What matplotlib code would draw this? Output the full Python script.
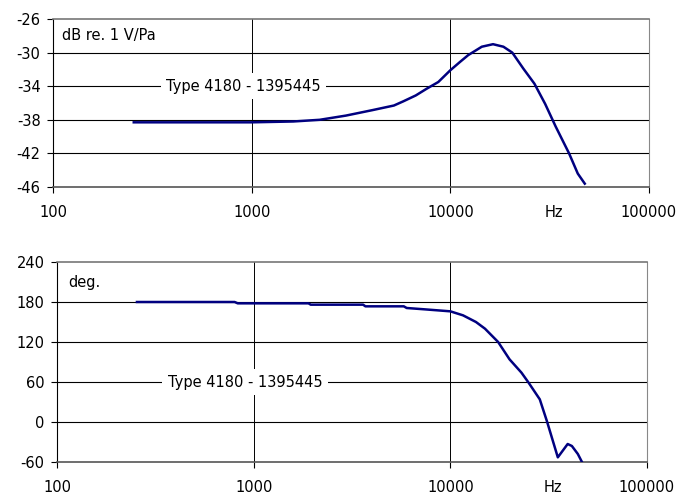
import matplotlib
matplotlib.use("Agg")
import matplotlib.pyplot as plt

plt.rcParams['font.family'] = ['DejaVu Sans']

# --- Datos: sensibilidad (dB re. 1 V/Pa) ---
freq_mag = [255, 500, 1000, 1620, 2200, 2980, 4050, 5200, 5800, 6700, 7600,
            8700, 10000, 11200, 12300, 14400, 16400, 18500, 20500, 23300,
            26500, 30000, 33900, 39600, 43800, 47500]
mag_db = [-38.3, -38.3, -38.3, -38.2, -38.0, -37.5, -36.85, -36.3, -35.8,
          -35.1, -34.3, -33.5, -32.1, -31.1, -30.3, -29.3, -29.0, -29.3,
          -30.0, -31.9, -33.7, -36.1, -38.8, -42.0, -44.4, -45.6]

# --- Datos: fase (deg.) ---
freq_phase = [255, 500, 800, 830, 1900, 1950, 3600, 3700, 5800, 6000, 7400,
              10000, 11600, 13500, 15000, 17500, 20000, 23000, 25000, 28500,
              31000, 35200, 39500, 41500, 44500, 46700]
phase_deg = [180, 180, 180, 178, 178, 176, 176, 173.5, 173.5, 171, 169, 166,
             160, 150, 140, 120, 94, 74, 59, 34, 1, -53, -33, -36, -48, -60]

mag_ticks = [-46, -42, -38, -34, -30, -26]
phase_ticks = [-60, 0, 60, 120, 180, 240]
x_ticks = [100, 1000, 10000, 100000]
x_labels = ['100', '1000', '10000', '100000']

W, H = 687, 495
FS = 10.5
fig = plt.figure(figsize=(W / 100, H / 100), dpi=100)

def px_axes(left, top, right, bottom):
    return fig.add_axes([left / W, 1 - bottom / H, (right - left) / W, (bottom - top) / H])

ax1 = px_axes(53, 19, 649, 187)
ax2 = px_axes(57, 262, 647, 462)

LINE = '#000080'

def style(ax, ticks, unit_label, unit_xy, hz_y):
    ax.set_xscale('log')
    ax.set_xlim(100, 100000)
    ax.set_ylim(ticks[0], ticks[-1])
    ax.set_yticks(ticks)
    ax.set_yticklabels([str(t) for t in ticks])
    ax.set_xticks(x_ticks)
    ax.set_xticklabels(x_labels)
    ax.xaxis.set_minor_locator(matplotlib.ticker.NullLocator())
    ax.tick_params(axis='both', direction='out', length=4, width=0.8,
                   labelsize=FS, colors='black')
    ax.tick_params(axis='y', pad=5)
    ax.tick_params(axis='x', pad=9)
    for t in ticks[1:-1]:
        ax.axhline(t, color='black', lw=0.8, zorder=1)
    for xv in (1000, 10000):
        ax.axvline(xv, color='black', lw=0.7, zorder=1)
    ax.spines['left'].set_color('black')
    ax.spines['bottom'].set_color('#555555')
    ax.spines['bottom'].set_linewidth(1.2)
    ax.spines['top'].set_color('#777777')
    ax.spines['top'].set_linewidth(1.2)
    ax.spines['right'].set_color('#888888')
    ax.text(unit_xy[0], unit_xy[1], unit_label, transform=ax.transAxes,
            fontsize=FS, va='center', ha='left')
    ax.text(0.84, hz_y, 'Hz', transform=ax.transAxes,
            fontsize=FS, va='center', ha='center')

style(ax1, mag_ticks, 'dB re. 1 V/Pa', (0.015, 0.9), -0.15)
ax1.plot(freq_mag, mag_db, color=LINE, lw=1.8, zorder=3)
ax1.text(910, -34, 'Type 4180 - 1395445', fontsize=FS, ha='center', va='center',
         bbox=dict(facecolor='white', edgecolor='none', pad=4), zorder=2)

style(ax2, phase_ticks, 'deg.', (0.019, 0.9), -0.125)
ax2.plot(freq_phase, phase_deg, color=LINE, lw=1.8, zorder=3)
ax2.text(905, 60, 'Type 4180 - 1395445', fontsize=FS, ha='center', va='center',
         bbox=dict(facecolor='white', edgecolor='none', pad=4), zorder=2)

fig.savefig('out.png', dpi=100)
